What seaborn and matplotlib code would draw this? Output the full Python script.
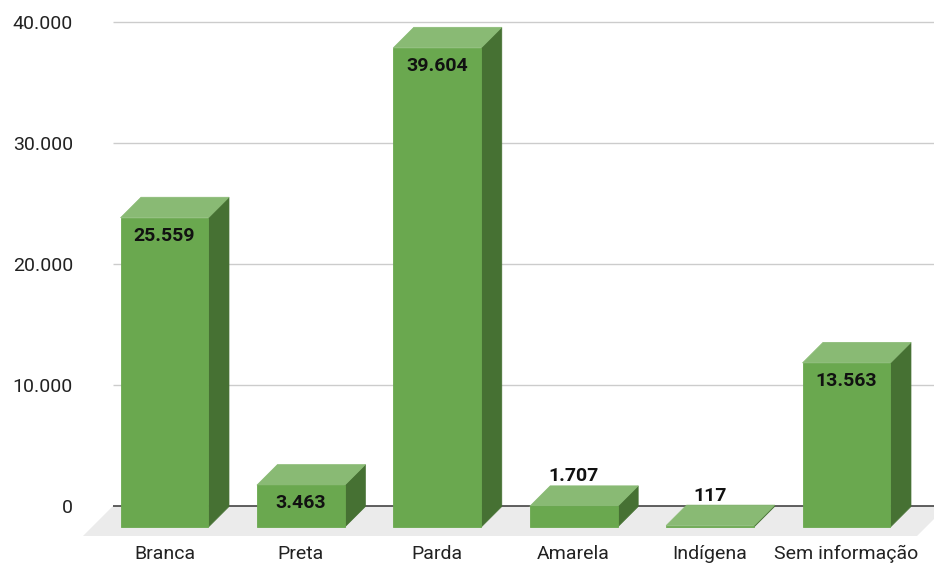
import matplotlib
matplotlib.use("Agg")
import matplotlib.pyplot as plt
from matplotlib.patches import Polygon
import seaborn as sns
import pandas as pd

# Data
categorias = ["Branca", "Preta", "Parda", "Amarela", "Indígena", "Sem informação"]
valores = [25559, 3463, 39604, 1707, 117, 13563]
ticks_y = [0, 10000, 20000, 30000, 40000]

def fmt_br(v):
    return f"{v:,.0f}".replace(",", ".")

sns.set_theme(style="white")
plt.rcParams["font.family"] = ["Roboto", "DejaVu Sans"]

COR_FRENTE = "#6aa84f"
COR_TOPO = "#89ba74"
COR_LADO = "#467133"
COR_PISO = "#ebebeb"
COR_GRADE = "#cccccc"
COR_BASE = "#444444"
COR_TEXTO = "#222222"

W, H = 934, 565
fig = plt.figure(figsize=(W / 100, H / 100), dpi=100)

# Layout in pixels: category spacing, vertical scale, depth of the 3D effect
PX_CAT = 136.4
X0_PX = 164.5
PX_VAL = 0.0121
BASE_PX = 527
AX_L, AX_R, AX_B = 83, 934, 536
PROF = 20.5        # depth of bars (px)
PROF_PISO = 30     # depth of the floor (px)

ax = fig.add_axes([AX_L / W, (H - AX_B) / H, (AX_R - AX_L) / W, AX_B / H])

df = pd.DataFrame({"cat": categorias, "val": valores})
sns.barplot(data=df, x="cat", y="val", color=COR_FRENTE, saturation=1,
            width=0.645, linewidth=0.6, edgecolor=COR_FRENTE, ax=ax, zorder=4)

xlim = ((AX_L - X0_PX) / PX_CAT, (AX_R - X0_PX) / PX_CAT)
ylim = (-(AX_B - BASE_PX) / PX_VAL, BASE_PX / PX_VAL)
ax.set_xlim(*xlim)
ax.set_ylim(*ylim)

ddx = PROF / PX_CAT
ddy = PROF / PX_VAL
ddy_grade = 21 / PX_VAL

# Floor (parallelogram under the bars)
fx0 = xlim[0]
fx1 = (917 - X0_PX) / PX_CAT
fdx = PROF_PISO / PX_CAT
piso = Polygon([(fx0, ylim[0]), (fx1, ylim[0]), (fx1 + fdx, ddy_grade), (fx0 + fdx, ddy_grade)],
               closed=True, facecolor=COR_PISO, edgecolor="none", zorder=1)
ax.add_patch(piso)

# Gridlines on the back plane
gx0 = fx0 + fdx
for v in ticks_y:
    ax.plot([gx0, xlim[1] + 1], [v + ddy_grade, v + ddy_grade],
            color=COR_BASE if v == 0 else COR_GRADE,
            lw=1.2 if v == 0 else 1.0, zorder=2, solid_capstyle="butt")

# Top and side faces of each bar
for p in list(ax.patches):
    if p is piso:
        continue
    x0 = p.get_x()
    w = p.get_width()
    h = p.get_height()
    lado = Polygon([(x0 + w, 0), (x0 + w + ddx, ddy), (x0 + w + ddx, h + ddy), (x0 + w, h)],
                   closed=True, facecolor=COR_LADO, edgecolor=COR_LADO, lw=0.5, zorder=3.5)
    topo = Polygon([(x0, h), (x0 + w, h), (x0 + w + ddx, h + ddy), (x0 + ddx, h + ddy)],
                   closed=True, facecolor=COR_TOPO, edgecolor=COR_TOPO, lw=0.5, zorder=3.6)
    ax.add_patch(lado)
    ax.add_patch(topo)

# Value labels
for i, v in enumerate(valores):
    altura_px = v * PX_VAL
    if altura_px > 36:
        y = v - 18 / PX_VAL
    else:
        y = v + 30 / PX_VAL
    ax.text(i, y, fmt_br(v), ha="center", va="center", fontsize=14,
            fontweight="bold", color="#111111", zorder=6)

# Axes
ax.set_yticks([v + ddy_grade for v in ticks_y])
ax.set_yticklabels([fmt_br(v) for v in ticks_y])
ax.set_xticks(range(len(categorias)))
ax.set_xticklabels(categorias)
ax.tick_params(axis="y", length=0, pad=7.2, labelsize=14, labelcolor=COR_TEXTO)
ax.tick_params(axis="x", length=0, pad=6.5, labelsize=14, labelcolor=COR_TEXTO)
ax.set_xlabel("")
ax.set_ylabel("")
for s in ax.spines.values():
    s.set_visible(False)
ax.grid(False)
ax.set_facecolor("none")

fig.savefig("out.png", dpi=100)
